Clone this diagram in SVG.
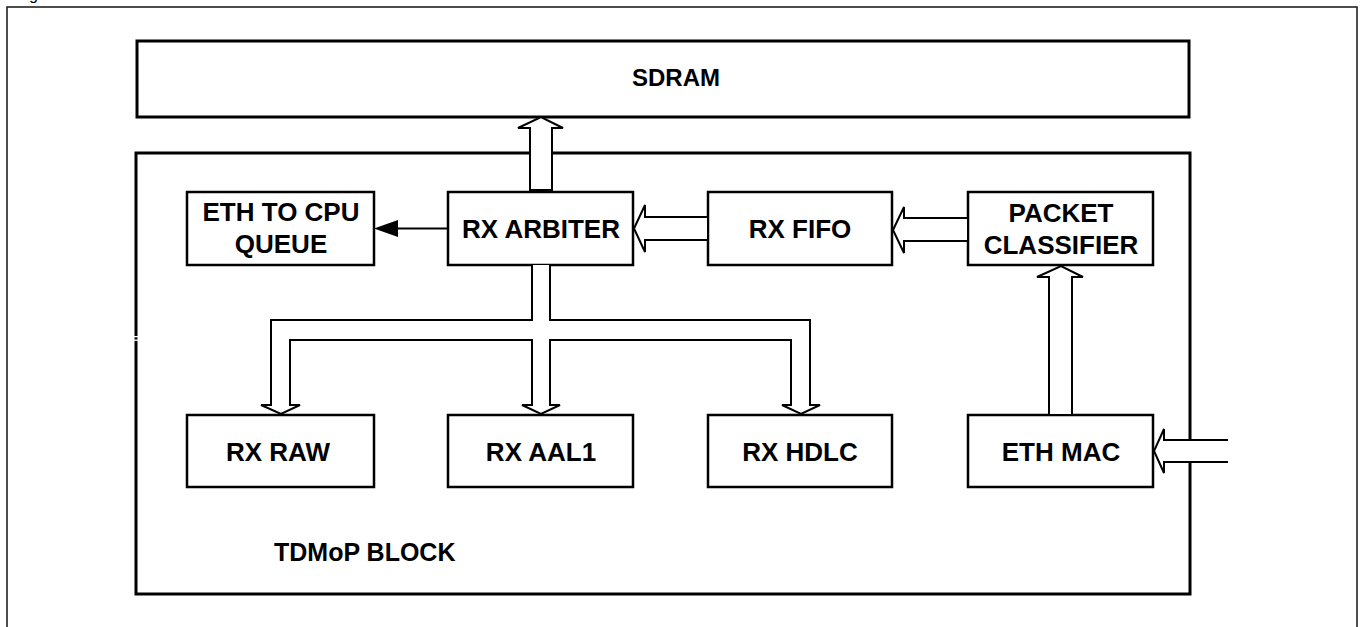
<svg xmlns="http://www.w3.org/2000/svg" width="1361" height="627" viewBox="0 0 1361 627">
<style>
.box{fill:#fff;stroke:#000;stroke-width:2.5}
.big{fill:#fff;stroke:#000;stroke-width:3}
.lbl{font-family:"Liberation Sans",Arial,sans-serif;font-weight:bold;font-size:26px;fill:#000;text-anchor:middle}
.barrow{fill:#fff;stroke:#000;stroke-width:2;stroke-linejoin:miter}
</style>
<rect width="1361" height="627" fill="#fff"/>
<text x="29" y="0" style="font-family:'Liberation Sans',Arial,sans-serif;font-size:16px;fill:#000">g</text>
<rect x="7" y="7" width="1350" height="660" fill="none" stroke="#222" stroke-width="1.6"/>
<g id="sdram"><rect class="big" x="137" y="41" width="1052" height="76"/><text class="lbl" x="676" y="86" style="font-size:24px">SDRAM</text></g>
<g id="tdmop"><rect class="big" x="136" y="153" width="1054" height="441"/><text class="lbl" x="274" y="561" style="text-anchor:start;font-size:25px">TDMoP BLOCK</text></g>
<rect x="132" y="336" width="9" height="1.3" fill="#fff"/>
<rect x="132" y="339.5" width="9" height="1.3" fill="#fff"/>
<g id="eth-to-cpu"><rect class="box" x="187" y="192" width="187" height="73"/><text class="lbl" x="281" y="221">ETH TO CPU</text><text class="lbl" x="281" y="253">QUEUE</text></g>
<g id="rx-arbiter"><rect class="box" x="448" y="192" width="185" height="73"/><text class="lbl" x="541" y="238">RX ARBITER</text></g>
<g id="rx-fifo"><rect class="box" x="708" y="192" width="184" height="73"/><text class="lbl" x="800" y="238">RX FIFO</text></g>
<g id="packet-classifier"><rect class="box" x="968" y="192" width="185" height="73"/><text class="lbl" x="1061" y="222">PACKET</text><text class="lbl" x="1061" y="254">CLASSIFIER</text></g>
<g id="rx-raw"><rect class="box" x="187" y="415" width="187" height="72"/><text class="lbl" x="278" y="461">RX RAW</text></g>
<g id="rx-aal1"><rect class="box" x="448" y="415" width="185" height="72"/><text class="lbl" x="541" y="461">RX AAL1</text></g>
<g id="rx-hdlc"><rect class="box" x="708" y="415" width="184" height="72"/><text class="lbl" x="800" y="461">RX HDLC</text></g>
<g id="eth-mac"><rect class="box" x="968" y="415" width="185" height="72"/><text class="lbl" x="1061" y="461">ETH MAC</text></g>
<g id="connectors">
<polygon class="barrow" points="530,190 530,128 518,128 541,117 563,128 552,128 552,190"/>
<line x1="447" y1="228.5" x2="396" y2="228.5" stroke="#000" stroke-width="2"/>
<polygon points="374,228.5 398,220 398,237" fill="#000"/>
<polygon class="barrow" points="708,217 645,217 645,205 634,228.5 645,252 645,240 708,240"/>
<polygon class="barrow" points="968,218 904,218 904,207 893,230 904,253 904,241 968,241"/>
<polygon class="barrow" points="1049,415 1049,277 1037,277 1061,266 1083,277 1072,277 1072,415"/>
<polygon points="1228,440 1164,440 1164,429 1154,451 1164,473 1164,462 1228,462" fill="#fff"/>
<polyline points="1228,440 1164,440 1164,429 1154,451 1164,473 1164,462 1228,462" fill="none" stroke="#000" stroke-width="2"/>
<path class="barrow" d="M532,265 L532,320 L271,320 L271,405 L261,405 L281,414 L300,405 L290,405 L290,340 L532,340 L532,405 L522,405 L541,414 L560,405 L550,405 L550,340 L791,340 L791,405 L782,405 L801,414 L820,405 L810,405 L810,320 L550,320 L550,265"/>
</g>
</svg>
